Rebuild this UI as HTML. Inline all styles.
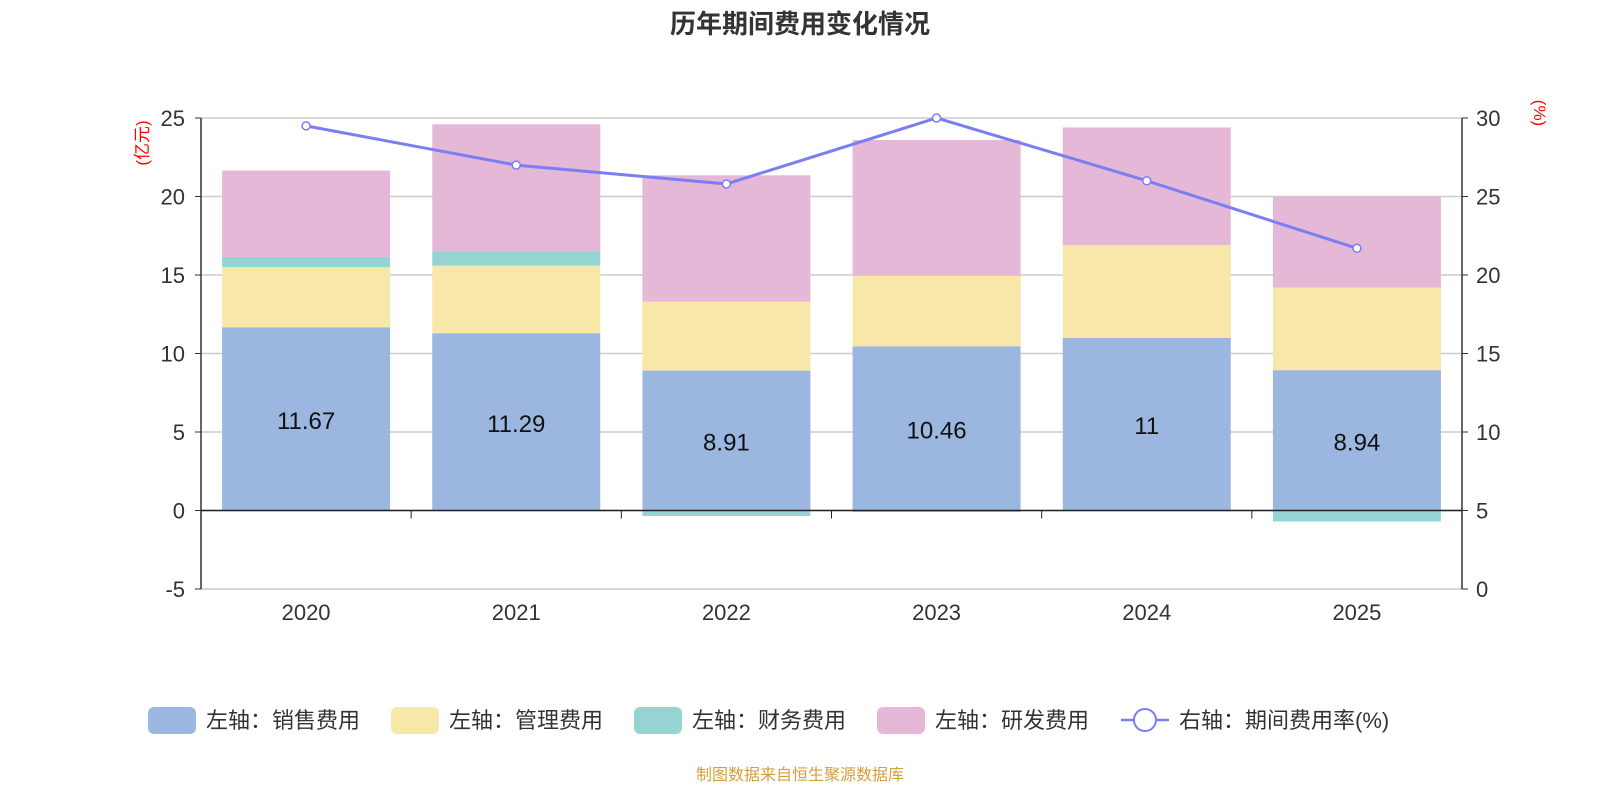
<!DOCTYPE html>
<html><head><meta charset="utf-8"><style>
body{margin:0;background:#fff;width:1600px;height:800px;overflow:hidden;font-family:"Liberation Sans","Noto Sans CJK SC",sans-serif;}
</style></head><body>
<svg id="c" width="1600" height="800" xmlns="http://www.w3.org/2000/svg">
<text x="800" y="33" text-anchor="middle" font-size="26" font-weight="bold" fill="#333">历年期间费用变化情况</text>
<text x="800" y="780" text-anchor="middle" font-size="16" fill="#d4a03c">制图数据来自恒生聚源数据库</text>
</svg>
<script>
const categories=["2020","2021","2022","2023","2024","2025"];
const sales=[11.67,11.29,8.91,10.46,11,8.94];
const mgmt=[3.83,4.31,4.39,4.49,5.9,5.26];
const finance=[0.65,0.9,-0.35,-0.1,-0.05,-0.7];
const rnd=[5.5,8.1,8.05,8.65,7.5,5.8];
const rate=[29.5,27.0,25.8,30.0,26.0,21.7];
const leftTicks=[-5,0,5,10,15,20,25];
const rightTicks=[0,5,10,15,20,25,30];
const NS="http://www.w3.org/2000/svg";
const svg=document.getElementById('c');
const X0=201,X1=1462,TOP=118,BOT=589;
const yL=v=>BOT-(v+5)/30*(BOT-TOP);
const yR=v=>BOT-v/30*(BOT-TOP);
const band=(X1-X0)/categories.length;
const xc=i=>X0+band*(i+0.5);
function mk(t,a){const e=document.createElementNS(NS,t);for(const k in a)e.setAttribute(k,a[k]);svg.appendChild(e);return e;}
leftTicks.forEach(v=>{
 const g=mk('line',{x1:X0,x2:X1,y1:yL(v),y2:yL(v),stroke:'#ccc','stroke-width':1.5});
 
 
 const t=mk('text',{x:185,y:yL(v)+8,'text-anchor':'end','font-size':22,fill:'#333'});t.textContent=v;
 
 
 mk('line',{x1:X0-6,x2:X0,y1:yL(v),y2:yL(v),stroke:'#333'});
});
rightTicks.forEach(v=>{
 const t=mk('text',{x:1476,y:yR(v)+8,'font-size':22,fill:'#333'});t.textContent=v;
 
 
 mk('line',{x1:X1,x2:X1+6,y1:yR(v),y2:yR(v),stroke:'#333'});
});
const series=[[sales,'#9bb7e0','sales'],[mgmt,'#f7e7a8','mgmt'],[finance,'#96d4d4','finance'],[rnd,'#e6b8d8','rnd']];
categories.forEach((c,i)=>{
 let pos=0,neg=0;const w=168;
 series.forEach(([arr,col,nm])=>{
  const v=arr[i];let a,b;
  if(v>=0){a=pos;b=pos+v;pos=b;}else{a=neg;b=neg+v;neg=b;}
  const r=mk('rect',{x:xc(i)-w/2,width:w,y:Math.min(yL(a),yL(b)),height:Math.abs(yL(a)-yL(b)),fill:col});
  
  
 });
 const t=mk('text',{x:xc(i),y:yL(sales[i]/2)+10,'text-anchor':'middle','font-size':24,fill:'#111'});t.textContent=sales[i];
 
 
 const xl=mk('text',{x:xc(i),y:620,'text-anchor':'middle','font-size':22,fill:'#333'});xl.textContent=c;
 
 
});
mk('line',{x1:X0,x2:X0,y1:TOP,y2:BOT,stroke:'#333','stroke-width':1.5});
mk('line',{x1:X1,x2:X1,y1:TOP,y2:BOT,stroke:'#333','stroke-width':1.5});
mk('line',{x1:X0,x2:X1,y1:yL(0),y2:yL(0),stroke:'#222','stroke-width':1.5});
for(let i=0;i<=categories.length;i++)mk('line',{x1:X0+band*i,x2:X0+band*i,y1:yL(0),y2:yL(0)+8,stroke:'#222'});
const pts=rate.map((v,i)=>xc(i)+','+yR(v)).join(' ');
const pl=mk('polyline',{points:pts,fill:'none',stroke:'#7b7ef0','stroke-width':3});


rate.forEach((v,i)=>{const p=mk('circle',{cx:xc(i),cy:yR(v),r:4,fill:'#fff',stroke:'#7b7ef0','stroke-width':1.5});
 
 });
const u1=mk('text',{x:0,y:0,'font-size':17,fill:'red',transform:'translate(148,143) rotate(-90)','text-anchor':'middle'});u1.textContent='(亿元)';


const u2=mk('text',{x:0,y:0,'font-size':17,fill:'red',transform:'translate(1534,113) rotate(90)','text-anchor':'middle'});u2.textContent='(%)';


const leg=[['左轴：销售费用','#9bb7e0',148],['左轴：管理费用','#f7e7a8',391],['左轴：财务费用','#96d4d4',634],['左轴：研发费用','#e6b8d8',877]];
leg.forEach(([t,c,x])=>{
 const r=mk('rect',{x:x,y:707,width:48,height:27,rx:6,fill:c});
 
 
 const tx=mk('text',{x:x+58,y:728,'font-size':22,fill:'#333'});tx.textContent=t;
 
 
});
mk('line',{x1:1121,x2:1169,y1:720,y2:720,stroke:'#7b7ef0','stroke-width':2.5});
mk('circle',{cx:1145,cy:720,r:11,fill:'#fff',stroke:'#7b7ef0','stroke-width':2});
const lt=mk('text',{x:1179,y:728,'font-size':22,fill:'#333'});lt.textContent='右轴：期间费用率(%)';


</script>
</body></html>
